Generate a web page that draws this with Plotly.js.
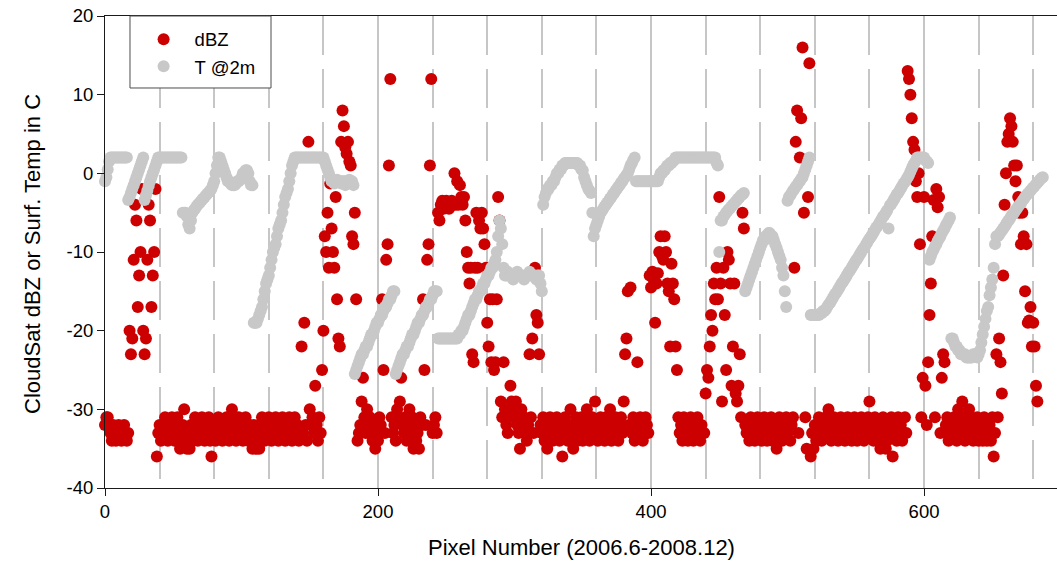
<!DOCTYPE html>
<html>
<head>
<meta charset="utf-8">
<script src="https://cdn.plot.ly/plotly-3.0.1.min.js"></script>
<style>
  html, body { margin: 0; padding: 0; background: #ffffff; }
  #chart { width: 1057px; height: 566px; }
</style>
</head>
<body>
<div id="chart"></div>
<script>
// ---------- DATA ----------
const firstPixel = 0;

// CloudSat dBZ, one value per pixel number, pixels 0..683
const dbz000 = [-32,-31,-31,-32,-33,-34,-32,-33,-34,-33,-32,-33,-34,-33,-32,-33,-34,
  -33,
  -20,-23,-21,-11,-4,-6,-17,-13,-10,-2,
  -20,-23,-21,-11,-4,-6,-17,-13,-10,-2,
  -36,
  -33,-32,-34,-33,-32,-31,-33,-34,-32,-33,
  -31,-32,-34,-33,-31,-32,-35,-33,-32,-30,
  -34,-35,-33,-35,-32,-34,-33,-31,-32,-34,
  -33,-32,-31,-33,-34,-32,-33,-31,-34,-36,
  -33,-32,-34,-33,-31,-32,-33,-34,-32,-33,
  -31,-32,-34,-31,-30,-33,-32,-34,-33,-31,
  -32];
const dbz100 = [-33,-34,-32,-31,-33,-34,-32,-33,-35,-32,
  -34,-35,-33,-35,-32,-31,-33,-34,-32,-33,
  -31,-32,-34,-33,-32,-31,-33,-34,-32,-33,
  -31,-32,-34,-33,-32,-31,-33,-34,-32,-31,
  -33,-32,-34,-33,
  -22,-33,-19,-32,-34,4,-30,-32,-31,-33,-27,-32,-34,-31,-33,-25,-20,
  -8,-10,-5,-12,-1.3,-7,-10,-12,-3,-16,-21,-22,4,8,6,3.3,2.5,4,1.5,1,-8,-9,-5,-16,
  -34,-33,-32,-29,-26,-31,-33,-30,-32,-31,-33,-34,-32,-35,-33];
const dbz200 = [-34,-31,-32,
  -16,-25,-33,-11,-9,1,12,-31,
  -33,-32,-34,-30,-31,-29,-26,-32,-33,-31,-34,-32,-30,-33,-31,-35,-32,-34,-33,-35,-31,-32,
  -16,-25,-32,-11,-9,1,12,-33,
  -32,-31,-33,-5,-6,
  -4,-3.5,-4.5,-4,-3.5,-4,-4.5,-4,-3.5,-4,
  0,-4,-1,-4,-1.5,-3,-4,-3,-6,-10,-12,-14,-12,-23,-24,-12,-5,-12,-6,-7,-5,-7,-9,-12,-19,
  -22,-16,-24,-16,-25,-24,-16,-3,-6,-29,-31,-24,-30,-32,-33,-31,-27,
  -29,-30];
const dbz300 = [-31,-29,-32,-33,-35,-30,-32,-31,-33,-34,-32,-23,-31,-21,-33,-12,-18,-19,-23,
  -32,-33,-31,-34,-32,-35,-33,-31,-32,-34,
  -33,-32,-31,-33,-34,-32,-36,-33,-31,-32,
  -34,-33,-30,-32,-35,-33,-31,-34,-32,-33,
  -31,-34,-32,-33,-30,-32,-34,-33,-31,-32,
  -29,-33,-34,-32,-31,-33,-32,-34,-31,-33,
  -32,-30,-34,-33,-32,-31,-33,-34,-32,-31,-33,
  -29,-23,-21,-15,-32,-14.5,-33,-31,-34,-32,-24,-33,-31,-32,-34,-33,-31,-32,-33,-13];
const dbz400 = [-14.5,-12.5,-13.5,-19,-14,-12.7,-10,-8,-10.5,-11,-8,-10,-14,-15,-22,-11.5,-14,-16,-22,-25,-31,
  -33,-32,-34,-31,-33,-32,-34,-33,-31,-32,-34,-33,-32,-31,-33,-34,-32,-33,
  -33,-28,-25,-26,-22,-18,-20,-14,-16,-12,-16,-3,-14,-29,-12,-18,-25,-10,-11,-14,-27,-22,-14,-28,-29,-27,-23,-31,-5,-7,-32,-33,
  -32,-34,-31,-33,-32,-34,-33,-31,-32,-33,-34,-32,-31,-33,-34,-32,-33,-31,-34,-32,-33,-35,-32,-31,-33,-34,-32,-33,-31];
const dbz500 = [-33,-32,-34,-32,-31,
  -12,4,8,-33,2,7,16,-5,-31,-35,-3,14,-36,
  -33,-35,-32,-34,-33,-31,-32,-34,-33,-32,
  -31,-33,-30,-32,-34,-33,-31,-32,-33,-34,
  -32,-31,-33,-32,-34,-33,-31,-32,-33,-34,
  -32,-31,-33,-34,-32,-33,-31,-32,-34,-33,
  -32,-31,-29,-33,-32,-34,-31,-33,-32,-34,
  -35,-33,-31,-32,-35,-34,-33,-32,-31,-36,
  -33,-32,-34,-31,-33,-32,-34,-33,
  -31,-33,13,12,10,7,4,3,-1,-3,0,-9,-31,-26];
const dbz600 = [-3,-27,-32,-24,-18,-14,-8,-3.4,-31,-2,-4.3,-3,-33,-26,-23,-24,-32,-31,-34,-33,-32,
  -33,-31,-32,-34,-30,-33,-32,-29,-31,-34,-33,-32,-30,-31,-33,-34,-32,-33,-31,-34,-32,-33,-34,-31,-32,-34,-33,-32,-34,-31,-36,-33,
  -23,-31,-21,-24,-28,-13,-4,0,4,5,7,6,4,1,-1,1,-3,-5,-9,-5,-8,-15,-9,-19,-18.7,-17,-22,-19,-22,-27,-29];

// Surface temperature at 2 m (C), one value per pixel number, pixels 0..687
const t000 = [-1,-0.5,0.5,1.5,2,2,2,2,2,2,2,2,2,
  2,2,2,2,
  -3.4,-3,-2.5,-2,-1.5,-1,-0.5,0,0.5,1,1.5,2,
  -3.4,-2.8,-2.2,-1.6,-1,-0.5,0,0.5,1,1.5,2,
  2,2,2,2,2,2,2,2,2,2,2,2,2,2,2,2,2,
  -5,-5,-5,-5.5,-6.5,-7,
  -6,-5,-4.7,-4.5,-4.2,-4,-3.8,-3.6,-3.4,-3.2,-3,-2.8,-2.6,-2.4,-2.2,-2,
  -1.5,-1,0,1,2,2,1.5,1,0.5,0,
  -0.5,-1,-1,-1.3,-1.5,-1.5,-1.5,-1.3,-1,-1,-0.8];
const t100 = [-0.5,
  0,0,0.4,0.4,0,-1,-1.5,-1.5,
  -19,-19,-19,-18.5,-18,-17.5,-17,-16,-15,-14,-13.5,-13,-12,-11,-10,-9.5,-9,-8,-7,-6.5,-6,-5,-4,-3,-2.5,-2,-1,0,1,1.5,2,
  2,2,2,2,2,2,2,2,2,2,2,2,2,2,2,2,2,2,2,2,2,
  1.5,1,0.5,0,-0.5,
  -1,-1,-1.3,-1,-0.8,-1,-1,-1.3,-1,-1,-1.5,-1,-1,-0.8,-1,-1,-1.5,
  -25.5,-25,-24.5,-24,-23.5,-23,-23,-22.5,-22,-22,-21.5,-21,-20.5,-20.5,-20,-19.5,-19];
const t200 = [-19,-18.5,-18,-18,-17.5,-17,-17,-16.5,-16,-16,-15.5,-15,-15,
  -25.5,-25,-24.5,-24,-23.5,-23,-23,-22.5,-22,-22,-21.5,-21,-20.5,-20.5,-20,-19.5,-19,-19,-18.5,-18,-18,-17.5,-17,-17,-16.5,-16,-16,-15.5,-15,-15,-15,
  -21,-21,-21,-21,-21,-21,-21,-21,-21,-21,-21,-21,-21,-21,-21,
  -20.5,-20.5,-20,-20,-19.5,-19,-18.5,-18,-18,-17.5,-17,-16.5,-16,-16,-15.5,-15,-15,-14.5,-14,-14,-13.5,-13,-13,-12.5,-12,-12,-11.5,-11,-10,
  -8,-6,-7,-9,-12,
  -13,-13,-12.5,-13,-13,-13,-13.5];
const t300 = [-13,-13,-12.5,-13,-13,-13,-13,-13.5,-13,-13,-13,-12.5,-13,-13,-13,-13,-13.5,-13,-13,
  -14,-15,
  -4,-3,-2.5,-2,-2,-1.5,-1.5,-1,-1,-0.5,0,0,0.5,0.5,1,1,
  1.3,1.3,1.3,1.3,1.3,1.3,1.3,1.3,1.3,1.3,1,1,0.5,0.4,
  -0.5,-1,-1.5,-2,-2.2,-2.5,-5,
  -8,-7,-6.5,-6,-5.5,-5,-4.8,-4.5,-4.2,-4,-3.7,-3.5,-3.2,-3,-2.7,-2.5,-2.2,-2,-1.7,-1.5,-1.2,-1,-0.7,-0.5,-0.2,0,0.5,1,1.3,1.7,2,
  -1,-1,-1,-1,-1,-1,-1,-1,-1,-1,-1];
const t400 = [-1,-1,-1,-1,-1,-1,
  -0.5,0,0,0.4,0.4,0.7,1,1,1.3,1.3,1.5,1.7,2,2,2,
  2,2,2,2,2,2,2,2,2,2,2,2,2,2,2,2,2,2,2,2,2,2,2,2,2,2,2,
  1.3,1,
  -10,
  -6,-6,-5.5,-5.3,-5,-4.8,-4.6,-4.4,-4.2,-4,-3.8,-3.6,-3.4,-3.2,-3,-2.8,-2.7,-2.5,
  -15,-14.5,-14,-13.5,-13,-12.5,-12,-11.5,-11,-10.5,-10,-9.5,-9,-8.5,-8.5,-8,
  -8,-7.6,-7.6,-8,-8,-8.5,-9,-9.5,-10,-10.5,-11,-12,
  -13,-15,-17];
const t500 = [-3.5,-3,-2.8,-2.5,-2.2,-2,-1.7,-1.5,-1.2,-1,-0.7,-0.5,0,0.5,1,1.5,2,
  -18,-18,-18,-18,-18,-18,-18,-17.8,-17.8,-17.5,-17.5,
  -17.3,-17,-16.7,-16.5,-16.2,-15.9,-15.6,-15.3,-15.1,-14.8,
  -14.5,-14.2,-13.9,-13.7,-13.4,-13.1,-12.8,-12.5,-12.3,-12,
  -11.7,-11.4,-11.1,-10.9,-10.6,-10.3,-10,-9.7,-9.5,-9.2,
  -8.9,-8.6,-8.3,-8.1,-7.8,-7.5,-7.2,-6.9,-6.7,-6.4,
  -6.1,-5.8,-5.5,-5.3,-5,-4.7,-7,-4.1,-3.9,-3.6,
  -3.3,-3,-2.7,-2.5,-2.2,-1.9,-1.6,-1.3,-1.1,-0.8,
  -0.5,-0.2,
  0.2,0.6,1,1.3,1.6,2,2,2,2,2];
const t600 = [2,1.7,1.5,1.3,
  -11,-10.5,-10,-9.7,-9.3,-9,-8.6,-8.3,-8,-7.6,-7.3,-7,-6.6,-6.3,-6,-5.6,
  -21,-21,-21.5,-22,-22,-22.5,-22.5,-23,-23,-23,-23,-23.4,-23.4,-23.4,-23.4,-23.4,-23,-23,-23,-23.4,-23,
  -22.5,-21.5,-20.5,-19.5,-18.5,-17.5,-17,-15.5,-14.5,-13.5,-12,-9,-8,
  -8,-7.8,-7.5,-7.3,-7,-6.8,-6.5,-6.2,-6,-5.7,-5.4,-5.2,-5,-4.7,-4.5,-4.2,-4,-3.8,-3.5,-3.3,-3,-2.8,-2.6,-2.4,-2.2,-2,-1.8,-1.6,-1.4,-1.2,-1,-0.8,-0.6,-0.5];

const seriesNames = ['dBZ', 'T @2m'];
const yTickVals = [-40, -30, -20, -10, 0, 10, 20];
const yTickText = ['-40', '-30', '-20', '-10', '0', '10', '20'];
const xTitle = 'Pixel Number (2006.6-2008.12)';
const yTitle = 'CloudSat dBZ or Surf. Temp in C';

// ---------- BUILD ----------
const dbzY = [].concat(dbz000, dbz100, dbz200, dbz300, dbz400, dbz500, dbz600);
const tY = [].concat(t000, t100, t200, t300, t400, t500, t600);
const dbzX = dbzY.map((_, i) => firstPixel + i);
const tX = tY.map((_, i) => firstPixel + i);

const FONT = 'Liberation Sans, Arial, Helvetica, sans-serif';
const AXIS = '#1a1a1a';
const GRID = '#c6c6c6';

const traces = [
  { type: 'scatter', mode: 'markers', name: seriesNames[0], x: dbzX, y: dbzY,
    marker: { color: '#cc0000', size: 12, line: { width: 0 } }, cliponaxis: false },
  { type: 'scatter', mode: 'markers', name: seriesNames[1], x: tX, y: tY,
    marker: { color: '#c8c8c8', size: 12, line: { width: 0 } }, cliponaxis: false }
];

const layout = {
  width: 1057, height: 566,
  margin: { l: 105, r: 0, t: 16, b: 78, pad: 0 },
  paper_bgcolor: '#ffffff', plot_bgcolor: '#ffffff',
  font: { family: FONT, color: '#000000', size: 18 },
  showlegend: true,
  legend: {
    x: 0.029, y: 0.99, xanchor: 'left', yanchor: 'top',
    bgcolor: 'rgba(0,0,0,0)', borderwidth: 0,
    font: { family: FONT, size: 18.5, color: '#000' },
    itemwidth: 52, traceorder: 'normal'
  },
  xaxis: {
    range: [0, 697.4], tickmode: 'linear', tick0: 0, dtick: 200,
    ticks: 'outside', ticklen: 7, tickwidth: 1, tickcolor: AXIS,
    showline: true, linecolor: AXIS, linewidth: 1, mirror: true,
    showgrid: true, gridcolor: GRID, gridwidth: 2, zeroline: false,
    minor: { dtick: 40, tick0: 0, showgrid: true, gridcolor: GRID, gridwidth: 2, griddash: '39px,14px', ticks: '' },
    tickfont: { family: FONT, size: 18.5, color: '#000' }
  },
  yaxis: {
    range: [-40, 20], tickmode: 'array', tickvals: yTickVals, ticktext: yTickText,
    ticks: 'outside', ticklen: 7, tickwidth: 1, tickcolor: AXIS,
    showline: true, linecolor: AXIS, linewidth: 1, mirror: false,
    showgrid: false, zeroline: false,
    tickfont: { family: FONT, size: 18.5, color: '#000' }
  },
  annotations: [
    { text: xTitle, xref: 'paper', yref: 'paper', x: 0.5, y: -0.127, xanchor: 'center', yanchor: 'middle',
      showarrow: false, font: { family: FONT, size: 22, color: '#000' } },
    { text: yTitle, xref: 'paper', yref: 'paper', x: -0.0756, y: 0.496, xanchor: 'center', yanchor: 'middle',
      textangle: -90, showarrow: false, font: { family: FONT, size: 22, color: '#000' } }
  ],
  shapes: [
    { type: 'rect', xref: 'paper', yref: 'paper', x0: 0.02626, x1: 0.17437, y0: 0.84746, y1: 1,
      line: { color: '#4d4d4d', width: 1 }, fillcolor: '#ffffff', layer: 'above' }
  ]
};

Plotly.newPlot('chart', traces, layout, { staticPlot: true, displayModeBar: false });
</script>
</body>
</html>
